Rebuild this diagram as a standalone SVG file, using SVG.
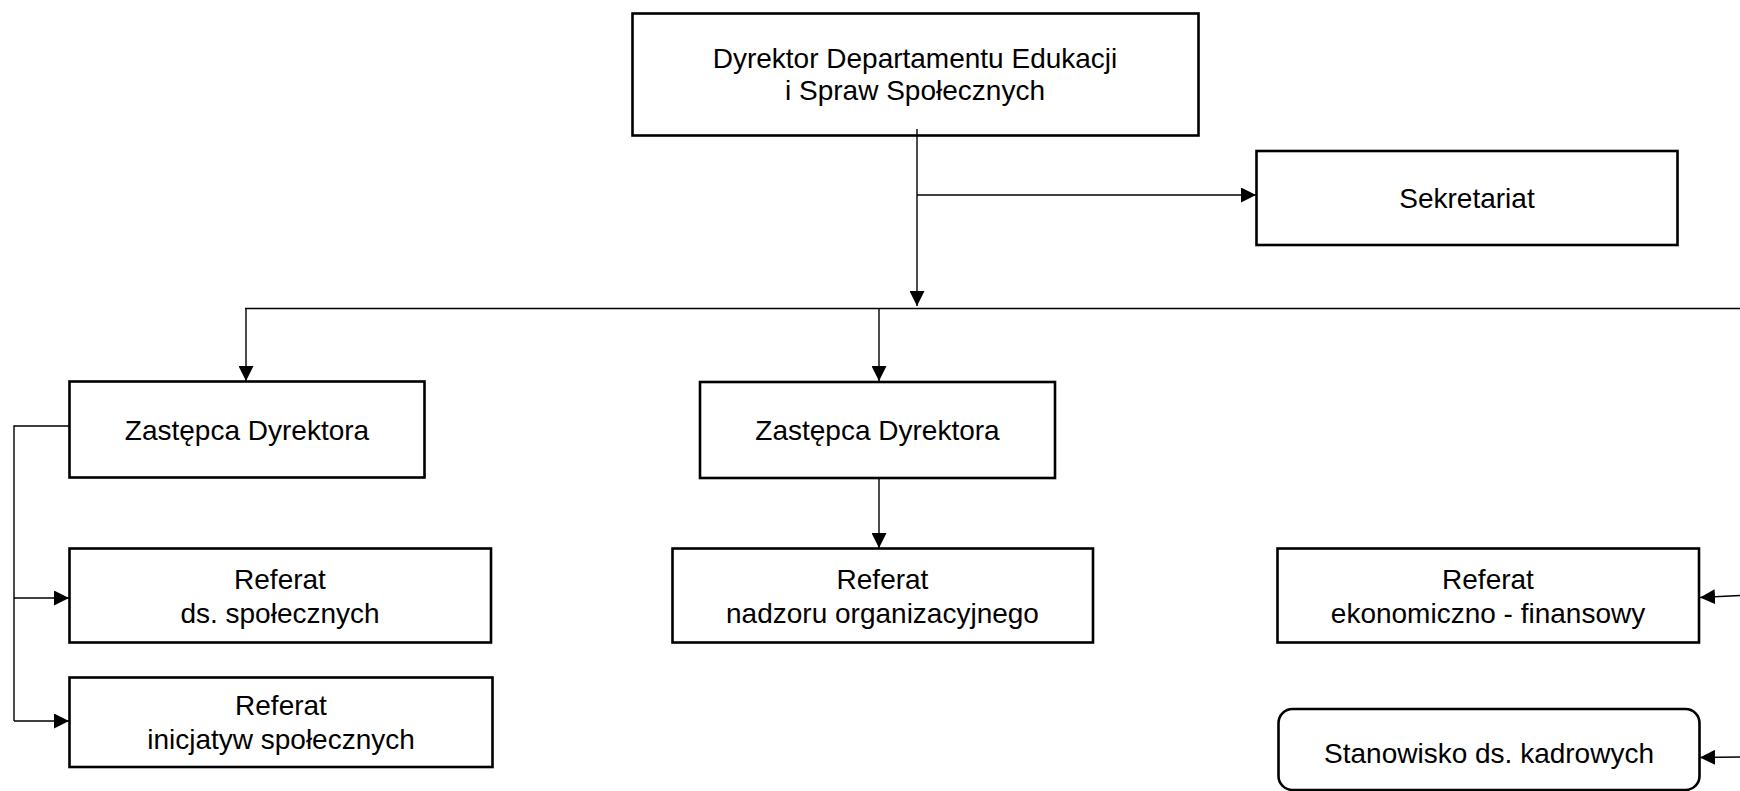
<svg xmlns="http://www.w3.org/2000/svg" width="1740" height="791" viewBox="0 0 1740 791">
<style>
.box{fill:#fff;stroke:#000;stroke-width:2.6}
.t{font-family:"Liberation Sans",Arial,sans-serif;font-size:28px;fill:#000;text-anchor:middle}
.c{fill:none;stroke:#000;stroke-width:1.4}
</style>
<defs>
<marker id="ah" viewBox="0 0 15 15" refX="15" refY="7.5" markerWidth="15" markerHeight="15" markerUnits="userSpaceOnUse" orient="auto">
<path d="M0,0 L15,7.5 L0,15 z" fill="#000"/>
</marker>
</defs>
<rect width="1740" height="791" fill="#fff"/>
<g id="dyrektor">
<rect class="box" x="632.5" y="13.5" width="566" height="122"/>
<text class="t" x="915" y="68">Dyrektor Departamentu Edukacji</text>
<text class="t" x="915" y="100">i Spraw Społecznych</text>
</g>
<g id="sekretariat">
<rect class="box" x="1256.5" y="151" width="421" height="94"/>
<text class="t" x="1467" y="208">Sekretariat</text>
</g>
<g id="zastepca1">
<rect class="box" x="69.5" y="381.5" width="355" height="96"/>
<text class="t" x="247" y="440">Zastępca Dyrektora</text>
</g>
<g id="zastepca2">
<rect class="box" x="700" y="382" width="355" height="96"/>
<text class="t" x="877.5" y="440">Zastępca Dyrektora</text>
</g>
<g id="ref-spoleczne">
<rect class="box" x="69.5" y="548.5" width="421.5" height="94"/>
<text class="t" x="280" y="588.5">Referat</text>
<text class="t" x="280" y="622.5">ds. społecznych</text>
</g>
<g id="ref-inicjatywy">
<rect class="box" x="69.5" y="677.5" width="423" height="89.5"/>
<text class="t" x="281" y="715">Referat</text>
<text class="t" x="281" y="749">inicjatyw społecznych</text>
</g>
<g id="ref-nadzor">
<rect class="box" x="672.5" y="548.5" width="420.5" height="94"/>
<text class="t" x="882.5" y="589">Referat</text>
<text class="t" x="882.5" y="623">nadzoru organizacyjnego</text>
</g>
<g id="ref-ekonomiczny">
<rect class="box" x="1277.5" y="548.5" width="421.5" height="94"/>
<text class="t" x="1488" y="589">Referat</text>
<text class="t" x="1488" y="623">ekonomiczno - finansowy</text>
</g>
<g id="stanowisko-kadry">
<rect class="box" x="1278.5" y="709" width="421" height="81" rx="14" ry="14"/>
<text class="t" x="1489" y="762.5">Stanowisko ds. kadrowych</text>
</g>
<g id="connectors">
<path class="c" d="M917,129 V306" marker-end="url(#ah)"/>
<path class="c" d="M917,195 H1256" marker-end="url(#ah)"/>
<path class="c" d="M245,308.5 H1740"/>
<path class="c" d="M246,308.5 V381" marker-end="url(#ah)"/>
<path class="c" d="M879,308.5 V381" marker-end="url(#ah)"/>
<path class="c" d="M879,478 V548" marker-end="url(#ah)"/>
<path class="c" d="M69,426 H14 V721"/>
<path class="c" d="M14,598 H69" marker-end="url(#ah)"/>
<path class="c" d="M14,721 H69" marker-end="url(#ah)"/>
<path class="c" d="M1740,595.5 L1700,597.5" marker-end="url(#ah)"/>
<path class="c" d="M1740,757 L1700,757.5" marker-end="url(#ah)"/>
</g>
</svg>
